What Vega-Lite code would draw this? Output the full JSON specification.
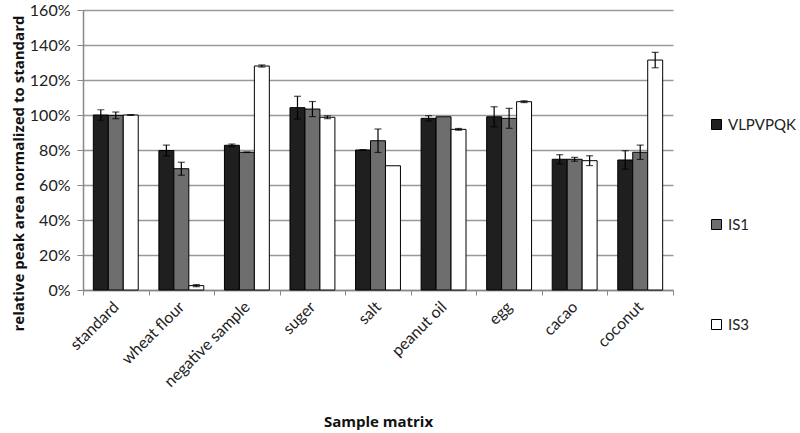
{
  "$schema": "https://vega.github.io/schema/vega-lite/v6.json",
  "width": 590,
  "height": 280,
  "autosize": {"type": "none"},
  "padding": {"left": 83, "top": 10, "right": 127, "bottom": 143},
  "background": "white",
  "config": {
    "font": "Lato",
    "view": {"stroke": null},
    "axis": {"labelFont": "Lato", "titleFont": "Open Sans", "labelColor": "#222", "titleColor": "#111"}
  },
  "data": {
    "values": [
      {"sample": "standard", "series": "VLPVPQK", "value": 100, "err": 3},
      {"sample": "standard", "series": "IS1", "value": 99.8, "err": 1.9},
      {"sample": "standard", "series": "IS3", "value": 100, "err": 0.2},
      {"sample": "wheat flour", "series": "VLPVPQK", "value": 79.7, "err": 3.1},
      {"sample": "wheat flour", "series": "IS1", "value": 69.3, "err": 3.7},
      {"sample": "wheat flour", "series": "IS3", "value": 2.5, "err": 0.6},
      {"sample": "negative sample", "series": "VLPVPQK", "value": 82.7, "err": 0.7},
      {"sample": "negative sample", "series": "IS1", "value": 78.7, "err": 0.1},
      {"sample": "negative sample", "series": "IS3", "value": 128, "err": 0.6},
      {"sample": "suger", "series": "VLPVPQK", "value": 104.2, "err": 6.5},
      {"sample": "suger", "series": "IS1", "value": 103.4, "err": 4.3},
      {"sample": "suger", "series": "IS3", "value": 98.7, "err": 0.8},
      {"sample": "salt", "series": "VLPVPQK", "value": 80, "err": 0.2},
      {"sample": "salt", "series": "IS1", "value": 85.3, "err": 6.7},
      {"sample": "salt", "series": "IS3", "value": 71, "err": 0},
      {"sample": "peanut oil", "series": "VLPVPQK", "value": 98.1, "err": 1.5},
      {"sample": "peanut oil", "series": "IS1", "value": 99, "err": 0},
      {"sample": "peanut oil", "series": "IS3", "value": 91.8, "err": 0.5},
      {"sample": "egg", "series": "VLPVPQK", "value": 99, "err": 5.7},
      {"sample": "egg", "series": "IS1", "value": 98.1, "err": 5.7},
      {"sample": "egg", "series": "IS3", "value": 107.6, "err": 0.5},
      {"sample": "cacao", "series": "VLPVPQK", "value": 74.7, "err": 2.6},
      {"sample": "cacao", "series": "IS1", "value": 74.7, "err": 1.1},
      {"sample": "cacao", "series": "IS3", "value": 73.9, "err": 2.8},
      {"sample": "coconut", "series": "VLPVPQK", "value": 74.3, "err": 5.3},
      {"sample": "coconut", "series": "IS1", "value": 78.7, "err": 4.1},
      {"sample": "coconut", "series": "IS3", "value": 131.4, "err": 4.4}
    ]
  },
  "encoding": {
    "x": {
      "field": "sample",
      "type": "nominal",
      "sort": null,
      "scale": {"paddingInner": 0, "paddingOuter": 0},
      "axis": {
        "title": "Sample matrix",
        "titleFontSize": 15,
        "titleFontWeight": "bold",
        "titleY": 131,
        "titleBaseline": "middle",
        "labelAngle": -45,
        "labelAlign": "right",
        "labelBaseline": "middle",
        "labelFontSize": 16,
        "labelPadding": 9,
        "tickBand": "extent",
        "tickColor": "#888",
        "tickSize": 5,
        "domainColor": "#888",
        "domainWidth": 1.5,
        "grid": false
      }
    },
    "xOffset": {
      "field": "series",
      "type": "nominal",
      "sort": ["VLPVPQK", "IS1", "IS3"],
      "scale": {"paddingInner": 0, "paddingOuter": 0.69}
    },
    "y": {
      "field": "value",
      "type": "quantitative",
      "scale": {"domain": [0, 160]},
      "axis": {
        "title": "relative peak area normalized to standard",
        "titleFontSize": 15,
        "titleFontWeight": "bold",
        "titleX": -65,
        "titleY": 163,
        "titleAngle": -90,
        "titleBaseline": "middle",
        "values": [0, 20, 40, 60, 80, 100, 120, 140, 160],
        "labelExpr": "datum.value + '%'",
        "labelOverlap": false,
        "labelFontSize": 16,
        "labelPadding": 7,
        "tickSize": 6,
        "tickColor": "#888",
        "domainColor": "#888",
        "domainWidth": 1.5,
        "gridColor": "#999",
        "gridWidth": 1.5
      }
    }
  },
  "layer": [
    {
      "mark": {"type": "bar", "stroke": "#000", "strokeWidth": 1},
      "encoding": {
        "fill": {
          "field": "series",
          "type": "nominal",
          "sort": ["VLPVPQK", "IS1", "IS3"],
          "scale": {"domain": ["VLPVPQK", "IS1", "IS3"], "range": ["#1f1f1f", "#6e6e6e", "#ffffff"]},
          "legend": {
            "title": null,
            "orient": "none",
            "legendX": 626,
            "legendY": 107,
            "symbolType": "square",
            "symbolSize": 100,
            "symbolStrokeColor": "#000",
            "symbolStrokeWidth": 1,
            "labelFontSize": 15,
            "labelColor": "#222",
            "labelFont": "Lato",
            "rowPadding": 84
          }
        }
      }
    },
    {
      "transform": [{"filter": "datum.err > 0"}],
      "mark": {"type": "errorbar", "ticks": {"size": 7, "color": "#000"}, "color": "#000", "thickness": 1.2},
      "encoding": {
        "yError": {"field": "err"}
      }
    }
  ]
}
